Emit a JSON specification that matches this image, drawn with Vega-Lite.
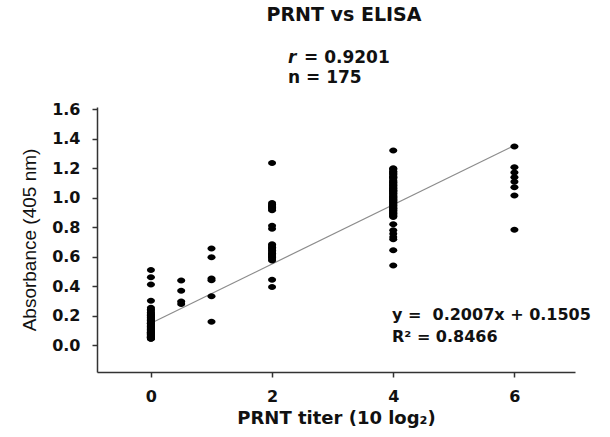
{
"$schema":"https://vega.github.io/schema/vega-lite/v6.json",
"width":478,"height":265,
"autosize":{"type":"none"},
"padding":{"left":97,"top":107,"right":35,"bottom":65},
"background":"white",
"config":{"view":{"stroke":null}},
"title":{"text":"PRNT vs ELISA","font":"DejaVu Sans","fontSize":19,"fontWeight":"bold","color":"#111","anchor":"middle","dx":8,"offset":24},
"encoding":{
"x":{"field":"titer","type":"quantitative","scale":{"domain":[-0.89,7.0],"nice":false,"zero":false},
"axis":{"title":"PRNT titer (10 log₂)","values":[0,2,4,6],"format":"d","labelOverlap":false,"grid":false,"domainColor":"#333","domainWidth":1.5,"tickColor":"#333","tickSize":5,"tickWidth":1.5,"labelFont":"DejaVu Sans","labelFontSize":16,"labelFontWeight":"bold","labelColor":"#111","labelPadding":11,"titleFont":"DejaVu Sans","titleFontSize":18,"titleFontWeight":"bold","titleColor":"#111","titlePadding":5}},
"y":{"field":"absorbance","type":"quantitative","scale":{"domain":[-0.18,1.615],"nice":false,"zero":false},
"axis":{"title":"Absorbance (405 nm)","values":[0,0.2,0.4,0.6,0.8,1.0,1.2,1.4,1.6],"format":".1f","labelOverlap":false,"grid":false,"domainColor":"#333","domainWidth":1.5,"tickColor":"#333","tickSize":5,"tickWidth":1.5,"labelFont":"DejaVu Sans","labelFontSize":16,"labelFontWeight":"bold","labelColor":"#111","labelPadding":12,"titleFont":"Liberation Sans","titleFontSize":19,"titleFontWeight":"normal","titleColor":"#111","titlePadding":12}}},
"layer":[
{"data":{"values":[{"titer":0,"absorbance":0.1505},{"titer":6,"absorbance":1.3547}]},
"mark":{"type":"line","color":"#8c8c8c","strokeWidth":1.2}},
{"data":{"values":[
{"titer":0,"absorbance":0.511},{"titer":0,"absorbance":0.462},{"titer":0,"absorbance":0.412},{"titer":0,"absorbance":0.302},
{"titer":0,"absorbance":0.255},{"titer":0,"absorbance":0.245},{"titer":0,"absorbance":0.235},{"titer":0,"absorbance":0.225},{"titer":0,"absorbance":0.215},
{"titer":0,"absorbance":0.21},{"titer":0,"absorbance":0.205},{"titer":0,"absorbance":0.2},{"titer":0,"absorbance":0.195},{"titer":0,"absorbance":0.19},
{"titer":0,"absorbance":0.185},{"titer":0,"absorbance":0.18},{"titer":0,"absorbance":0.175},{"titer":0,"absorbance":0.17},{"titer":0,"absorbance":0.165},
{"titer":0,"absorbance":0.16},{"titer":0,"absorbance":0.155},{"titer":0,"absorbance":0.15},{"titer":0,"absorbance":0.145},{"titer":0,"absorbance":0.14},
{"titer":0,"absorbance":0.135},{"titer":0,"absorbance":0.13},{"titer":0,"absorbance":0.125},{"titer":0,"absorbance":0.12},{"titer":0,"absorbance":0.115},
{"titer":0,"absorbance":0.11},{"titer":0,"absorbance":0.105},{"titer":0,"absorbance":0.1},{"titer":0,"absorbance":0.1},{"titer":0,"absorbance":0.095},
{"titer":0,"absorbance":0.09},{"titer":0,"absorbance":0.09},{"titer":0,"absorbance":0.085},{"titer":0,"absorbance":0.08},{"titer":0,"absorbance":0.08},
{"titer":0,"absorbance":0.075},{"titer":0,"absorbance":0.07},{"titer":0,"absorbance":0.07},{"titer":0,"absorbance":0.065},{"titer":0,"absorbance":0.065},
{"titer":0,"absorbance":0.06},{"titer":0,"absorbance":0.06},{"titer":0,"absorbance":0.055},{"titer":0,"absorbance":0.055},{"titer":0,"absorbance":0.05},
{"titer":0,"absorbance":0.05},{"titer":0,"absorbance":0.05},{"titer":0,"absorbance":0.045},{"titer":0,"absorbance":0.045},{"titer":0,"absorbance":0.12},
{"titer":0,"absorbance":0.15},
{"titer":0.5,"absorbance":0.439},{"titer":0.5,"absorbance":0.37},{"titer":0.5,"absorbance":0.297},{"titer":0.5,"absorbance":0.28},
{"titer":1,"absorbance":0.657},{"titer":1,"absorbance":0.597},{"titer":1,"absorbance":0.453},{"titer":1,"absorbance":0.441},{"titer":1,"absorbance":0.333},{"titer":1,"absorbance":0.16},
{"titer":2,"absorbance":1.236},{"titer":2,"absorbance":0.965},{"titer":2,"absorbance":0.955},{"titer":2,"absorbance":0.945},{"titer":2,"absorbance":0.94},
{"titer":2,"absorbance":0.935},{"titer":2,"absorbance":0.925},{"titer":2,"absorbance":0.915},{"titer":2,"absorbance":0.81},{"titer":2,"absorbance":0.79},
{"titer":2,"absorbance":0.685},{"titer":2,"absorbance":0.675},{"titer":2,"absorbance":0.665},{"titer":2,"absorbance":0.655},{"titer":2,"absorbance":0.645},
{"titer":2,"absorbance":0.635},{"titer":2,"absorbance":0.625},{"titer":2,"absorbance":0.615},{"titer":2,"absorbance":0.605},{"titer":2,"absorbance":0.595},
{"titer":2,"absorbance":0.585},{"titer":2,"absorbance":0.575},{"titer":2,"absorbance":0.445},{"titer":2,"absorbance":0.395},{"titer":2,"absorbance":0.66},
{"titer":2,"absorbance":0.62},{"titer":2,"absorbance":0.6},
{"titer":4,"absorbance":1.32},
{"titer":4,"absorbance":1.2},{"titer":4,"absorbance":1.195},{"titer":4,"absorbance":1.19},{"titer":4,"absorbance":1.18},{"titer":4,"absorbance":1.175},
{"titer":4,"absorbance":1.17},{"titer":4,"absorbance":1.165},{"titer":4,"absorbance":1.16},{"titer":4,"absorbance":1.15},{"titer":4,"absorbance":1.145},
{"titer":4,"absorbance":1.14},{"titer":4,"absorbance":1.135},{"titer":4,"absorbance":1.13},{"titer":4,"absorbance":1.12},{"titer":4,"absorbance":1.115},
{"titer":4,"absorbance":1.11},{"titer":4,"absorbance":1.105},{"titer":4,"absorbance":1.1},{"titer":4,"absorbance":1.095},{"titer":4,"absorbance":1.09},
{"titer":4,"absorbance":1.085},{"titer":4,"absorbance":1.08},{"titer":4,"absorbance":1.075},{"titer":4,"absorbance":1.07},{"titer":4,"absorbance":1.065},
{"titer":4,"absorbance":1.06},{"titer":4,"absorbance":1.055},{"titer":4,"absorbance":1.05},{"titer":4,"absorbance":1.045},{"titer":4,"absorbance":1.04},
{"titer":4,"absorbance":1.035},{"titer":4,"absorbance":1.03},{"titer":4,"absorbance":1.025},{"titer":4,"absorbance":1.02},{"titer":4,"absorbance":1.015},
{"titer":4,"absorbance":1.01},{"titer":4,"absorbance":1.005},{"titer":4,"absorbance":1.0},{"titer":4,"absorbance":0.995},{"titer":4,"absorbance":0.99},
{"titer":4,"absorbance":0.985},{"titer":4,"absorbance":0.98},{"titer":4,"absorbance":0.975},{"titer":4,"absorbance":0.97},{"titer":4,"absorbance":0.965},
{"titer":4,"absorbance":0.96},{"titer":4,"absorbance":0.955},{"titer":4,"absorbance":0.95},{"titer":4,"absorbance":0.945},{"titer":4,"absorbance":0.94},
{"titer":4,"absorbance":0.935},{"titer":4,"absorbance":0.93},{"titer":4,"absorbance":0.925},{"titer":4,"absorbance":0.92},{"titer":4,"absorbance":0.915},
{"titer":4,"absorbance":0.91},{"titer":4,"absorbance":0.905},{"titer":4,"absorbance":0.9},{"titer":4,"absorbance":0.895},{"titer":4,"absorbance":0.89},
{"titer":4,"absorbance":0.885},{"titer":4,"absorbance":0.88},{"titer":4,"absorbance":0.875},{"titer":4,"absorbance":0.87},{"titer":4,"absorbance":1.0},
{"titer":4,"absorbance":0.98},{"titer":4,"absorbance":1.05},
{"titer":4,"absorbance":0.82},{"titer":4,"absorbance":0.78},{"titer":4,"absorbance":0.757},{"titer":4,"absorbance":0.735},{"titer":4,"absorbance":0.72},
{"titer":4,"absorbance":0.644},{"titer":4,"absorbance":0.542},
{"titer":6,"absorbance":1.347},{"titer":6,"absorbance":1.207},{"titer":6,"absorbance":1.171},{"titer":6,"absorbance":1.14},{"titer":6,"absorbance":1.108},
{"titer":6,"absorbance":1.072},{"titer":6,"absorbance":1.016},{"titer":6,"absorbance":0.784}
]},
"mark":{"type":"point","filled":true,"shape":"M-1,0A1,0.75,0,1,0,1,0A1,0.75,0,1,0,-1,0Z","size":64,"color":"#000000","opacity":1}},
{"data":{"values":[{"titer":2.263,"absorbance":1.913}]},"mark":{"type":"text","text":"r","font":"DejaVu Sans","fontSize":17,"fontWeight":"bold","fontStyle":"italic","color":"#111","align":"left","baseline":"alphabetic"}},
{"data":{"values":[{"titer":2.263,"absorbance":1.913}]},"mark":{"type":"text","text":"= 0.9201","font":"DejaVu Sans","fontSize":17,"fontWeight":"bold","color":"#111","align":"left","baseline":"alphabetic","dx":16}},
{"data":{"values":[{"titer":2.263,"absorbance":1.778}]},"mark":{"type":"text","text":"n = 175","font":"DejaVu Sans","fontSize":17,"fontWeight":"bold","color":"#111","align":"left","baseline":"alphabetic"}},
{"data":{"values":[{"titer":3.979,"absorbance":0.169}]},"mark":{"type":"text","text":"y =\u00a0 0.2007x + 0.1505","font":"DejaVu Sans","fontSize":16,"fontWeight":"bold","color":"#111","align":"left","baseline":"alphabetic"}},
{"data":{"values":[{"titer":3.979,"absorbance":0.022}]},"mark":{"type":"text","text":"R² = 0.8466","font":"DejaVu Sans","fontSize":16,"fontWeight":"bold","color":"#111","align":"left","baseline":"alphabetic"}}
]
}
